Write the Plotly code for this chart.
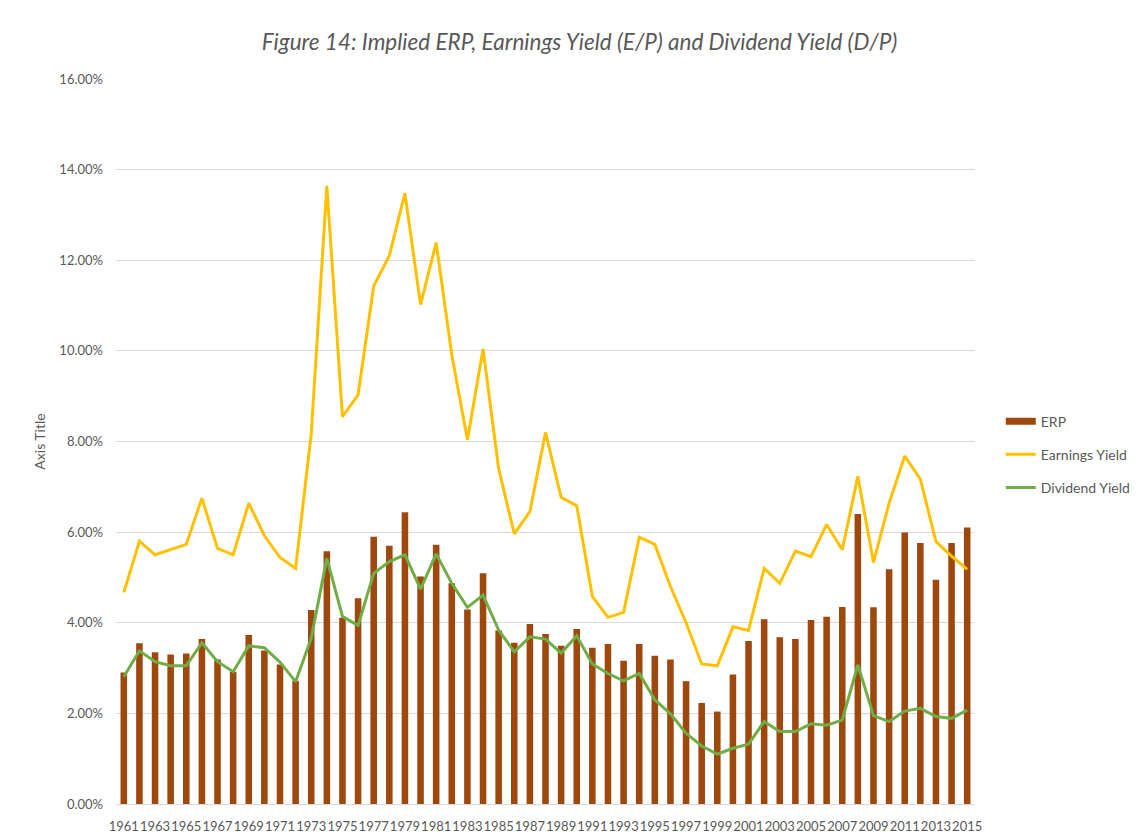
import plotly.graph_objects as go

# years on the category axis
years = list(range(1961, 2016))

# implied equity risk premium (bars), in %
erp = [2.90, 3.55, 3.35, 3.30, 3.32, 3.64, 3.19, 2.92, 3.73, 3.39,
       3.08, 2.72, 4.28, 5.58, 4.11, 4.54, 5.90, 5.70, 6.44, 5.02,
       5.72, 4.87, 4.29, 5.09, 3.83, 3.56, 3.97, 3.75, 3.49, 3.86,
       3.45, 3.53, 3.16, 3.53, 3.27, 3.19, 2.71, 2.23, 2.04, 2.86,
       3.60, 4.08, 3.68, 3.64, 4.06, 4.13, 4.35, 6.40, 4.34, 5.18,
       5.99, 5.76, 4.95, 5.76, 6.10]

# earnings yield E/P, in %
earnings_yield = [4.67, 5.80, 5.50, 5.62, 5.73, 6.75, 5.64, 5.50, 6.64, 5.92,
                  5.44, 5.20, 8.17, 13.64, 8.55, 9.03, 11.43, 12.10, 13.48, 11.02,
                  12.39, 9.91, 8.04, 10.04, 7.40, 5.96, 6.45, 8.20, 6.77, 6.58,
                  4.58, 4.12, 4.23, 5.89, 5.73, 4.80, 4.00, 3.09, 3.05, 3.91,
                  3.83, 5.20, 4.87, 5.58, 5.46, 6.17, 5.61, 7.23, 5.33, 6.64,
                  7.68, 7.17, 5.79, 5.47, 5.18]

# dividend yield D/P, in %
dividend_yield = [2.81, 3.38, 3.14, 3.05, 3.05, 3.56, 3.14, 2.92, 3.49, 3.45,
                  3.13, 2.70, 3.66, 5.42, 4.14, 3.94, 5.09, 5.35, 5.50, 4.74,
                  5.52, 4.87, 4.34, 4.61, 3.84, 3.36, 3.69, 3.64, 3.33, 3.71,
                  3.09, 2.88, 2.72, 2.88, 2.30, 1.99, 1.56, 1.28, 1.10, 1.23,
                  1.32, 1.82, 1.60, 1.60, 1.77, 1.74, 1.85, 3.07, 1.95, 1.82,
                  2.05, 2.11, 1.93, 1.89, 2.07]

tick_years = years[::2]
font_name = "Lato, Calibri, sans-serif"
gray = "#595959"
erp_color = "#9E480E"

fig = go.Figure()

fig.add_trace(go.Bar(
    x=years, y=[v / 100 for v in erp], name="ERP",
    marker=dict(color=erp_color, line=dict(width=0)),
    showlegend=False))

# legend entry for the bars, drawn as a wide swatch like Excel does
fig.add_trace(go.Scatter(
    x=[None], y=[None], name="ERP", mode="lines",
    line=dict(color=erp_color, width=7), legendgroup="a"))

fig.add_trace(go.Scatter(
    x=years, y=[v / 100 for v in earnings_yield], name="Earnings Yield",
    mode="lines", line=dict(color="#FFC000", width=3),
    legendgroup="b"))

fig.add_trace(go.Scatter(
    x=years, y=[v / 100 for v in dividend_yield], name="Dividend Yield",
    mode="lines", line=dict(color="#70AD47", width=3),
    legendgroup="c"))

# page body adds an 8px offset, margins are trimmed for it
fig.update_layout(
    width=1143, height=839,
    paper_bgcolor="white", plot_bgcolor="white",
    margin=dict(l=108, r=176, t=71, b=43),
    bargap=0.58,
    font=dict(family=font_name, color=gray, size=13),
    title=dict(
        text="Figure 14: Implied ERP, Earnings Yield (E/P) and Dividend Yield (D/P)",
        font=dict(family=font_name, size=22.5, color=gray, style="italic"),
        x=0.5, xanchor="center", y=0.9595, yanchor="middle"),
    legend=dict(
        x=1.03, y=0.482, xanchor="left", yanchor="middle",
        font=dict(size=14, color=gray),
        tracegroupgap=12, traceorder="grouped"),
    xaxis=dict(
        range=[1960.5, 2015.5],
        tickvals=tick_years, ticktext=[str(y) for y in tick_years],
        tickangle=0, showgrid=False, zeroline=False,
        showline=True, linecolor="#d9d9d9", linewidth=1,
        ticks="", ticklabelstandoff=10,
        tickfont=dict(size=13, color=gray)),
    yaxis=dict(
        range=[0, 0.16], dtick=0.02, tickformat=".2%",
        showgrid=True, gridcolor="#d9d9d9", gridwidth=1,
        zeroline=False, ticks="", ticklabelstandoff=12,
        tickfont=dict(size=13, color=gray),
        title=dict(text="Axis Title", font=dict(size=14, color=gray), standoff=10)),
)

fig.write_html("out.html")
